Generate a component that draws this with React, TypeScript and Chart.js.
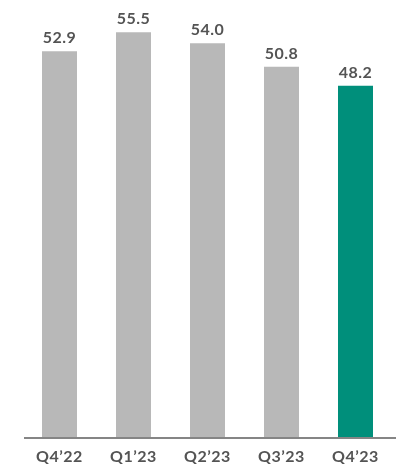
import React, { useEffect, useRef } from "react";
import { Chart, registerables } from "chart.js";

Chart.register(...registerables);

const categories = ["Q4’22", "Q1’23", "Q2’23", "Q3’23", "Q4’23"];
const values = [52.9, 55.5, 54.0, 50.8, 48.2];
const barColors = ["#b8b8b8", "#b8b8b8", "#b8b8b8", "#b8b8b8", "#008f7b"];

const FONT = "bold 16px Lato";
const TEXT_COLOR = "#545454";

const labelsPlugin = {
  id: "labelsPlugin",
  afterDatasetsDraw(chart: any) {
    const { ctx, chartArea } = chart;
    const meta = chart.getDatasetMeta(0);
    const xScale = chart.scales.x;
    ctx.save();
    // axis line
    ctx.strokeStyle = "#858585";
    ctx.lineWidth = 2;
    ctx.beginPath();
    ctx.moveTo(chartArea.left + 1.5, chartArea.bottom);
    ctx.lineTo(chartArea.right + 3.5, chartArea.bottom);
    ctx.stroke();

    ctx.font = FONT;
    (ctx as any).letterSpacing = "0.5px";
    ctx.fillStyle = TEXT_COLOR;
    ctx.textAlign = "center";
    ctx.textBaseline = "alphabetic";
    meta.data.forEach((bar: any, i: number) => {
      ctx.fillText(values[i].toFixed(1), bar.x, bar.y - 8);
    });
    categories.forEach((c, i) => {
      ctx.fillText(c, xScale.getPixelForTick(i), chartArea.bottom + 24);
    });
    ctx.restore();
  },
};

export default function App() {
  const ref = useRef<HTMLCanvasElement | null>(null);
  useEffect(() => {
    if (!ref.current) return;
    const chart = new Chart(ref.current, {
      type: "bar",
      data: {
        labels: categories,
        datasets: [
          {
            data: values,
            backgroundColor: barColors,
            borderWidth: 0,
            categoryPercentage: 1,
            barPercentage: 0.473,
          },
        ],
      },
      options: {
        animation: false,
        responsive: true,
        maintainAspectRatio: false,
        layout: { padding: { top: 14, left: 22.5, right: 5.5, bottom: 28 } },
        plugins: { legend: { display: false }, tooltip: { enabled: false } },
        scales: {
          y: { display: false, min: 0, max: 58 },
          x: { display: false },
        },
      },
      plugins: [labelsPlugin],
    });
    return () => chart.destroy();
  }, []);
  return (
    <div style={{ position: "absolute", left: 0, top: 0, width: 398, height: 466 }}>
      <canvas ref={ref} />
    </div>
  );
}
